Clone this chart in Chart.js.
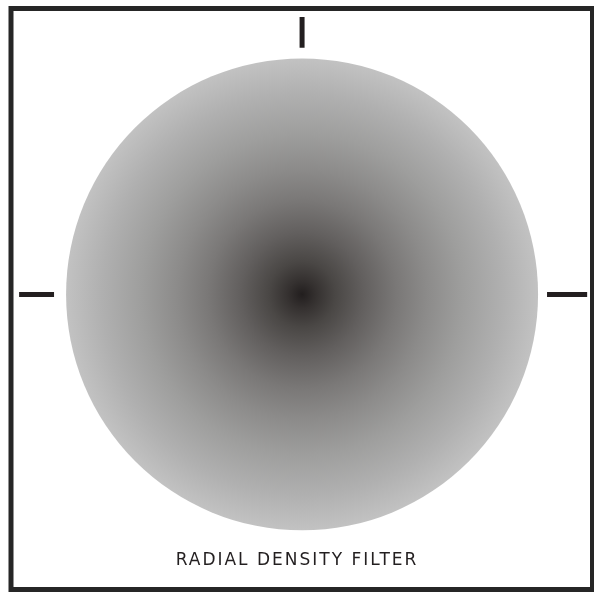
<!DOCTYPE html>
<html>
<head>
<meta charset="utf-8">
<script src="https://cdn.jsdelivr.net/npm/chart.js@4.4.1/dist/chart.umd.min.js"></script>
<style>
  html, body { margin: 0; padding: 0; background: #ffffff; }
  #wrap { width: 594px; height: 592px; }
</style>
</head>
<body>
<div id="wrap"><canvas id="c" width="594" height="592"></canvas></div>
<script>
// ---- data ----
const captionText = "RADIAL DENSITY FILTER";
const filterCenter = [{ x: 0, y: 0 }];
const filterRadius = 1.0;                       // radius of the filter disc (data units)
// density profile: relative radius -> grey level
const densityStops  = [0, 0.06, 0.14, 0.26, 0.40, 0.53, 0.68, 0.85, 1.0];
const densityColors = ["#221e1e", "#353130", "#4a4745", "#625f5e", "#7a7877", "#8c8b8a", "#9e9e9d", "#b0b0b0", "#c2c2c2"];
// registration marks (data units)
const markTop   = [{ x: 0, y: 1.047 }, { x: 0, y: 1.178 }];
const markLeft  = [{ x: -1.199, y: 0 }, { x: -1.051, y: 0 }];
const markRight = [{ x: 1.038, y: 0 }, { x: 1.208, y: 0 }];
// axis extents (data units)
const xRange = [-1.28, 1.237];
const yRange = [-1.088, 1.25];

const markColor = "#231f20";

function discRadiusPx(chart) {
  const sx = chart.scales.x;
  return Math.abs(sx.getPixelForValue(filterRadius) - sx.getPixelForValue(0));
}

const framePlugin = {
  id: "frame",
  beforeDraw(chart) {
    chart.ctx.letterSpacing = "2px";
  },
  afterDraw(chart) {
    const ctx = chart.ctx;
    ctx.letterSpacing = "0px";
    ctx.save();
    ctx.strokeStyle = "#262626";
    ctx.lineWidth = 5;
    ctx.beginPath();
    ctx.rect(11, 8.5, 581.5, 581);
    ctx.stroke();
    ctx.restore();
  }
};

const markDataset = (pts) => ({
  data: pts,
  showLine: true,
  borderColor: markColor,
  borderWidth: 5,
  borderCapStyle: "butt",
  pointRadius: 0,
  pointHoverRadius: 0,
  fill: false
});

new Chart(document.getElementById("c"), {
  type: "scatter",
  data: {
    datasets: [
      {
        data: filterCenter,
        pointRadius: (ctx) => ctx.chart.chartArea ? discRadiusPx(ctx.chart) : 0,
        pointHoverRadius: (ctx) => ctx.chart.chartArea ? discRadiusPx(ctx.chart) : 0,
        pointBorderWidth: 0,
        pointHoverBorderWidth: 0,
        backgroundColor: (ctx) => {
          const chart = ctx.chart;
          if (!chart.chartArea) return "#888888";
          const cx = chart.scales.x.getPixelForValue(0);
          const cy = chart.scales.y.getPixelForValue(0);
          const r = discRadiusPx(chart);
          const g = chart.ctx.createRadialGradient(cx, cy, 0, cx, cy, r);
          densityStops.forEach((s, i) => g.addColorStop(s, densityColors[i]));
          return g;
        }
      },
      markDataset(markTop),
      markDataset(markLeft),
      markDataset(markRight)
    ]
  },
  options: {
    responsive: false,
    animation: false,
    events: [],
    layout: { padding: 0 },
    scales: {
      x: { type: "linear", display: false, min: xRange[0], max: xRange[1] },
      y: { type: "linear", display: false, min: yRange[0], max: yRange[1] }
    },
    plugins: {
      legend: { display: false },
      tooltip: { enabled: false },
      title: {
        display: true,
        position: "bottom",
        text: captionText,
        color: "#231f20",
        font: { family: "DejaVu Sans", size: 17, weight: "normal", lineHeight: 1.2 },
        padding: { top: 0, bottom: 21 }
      }
    }
  },
  plugins: [framePlugin]
});
</script>
</body>
</html>
